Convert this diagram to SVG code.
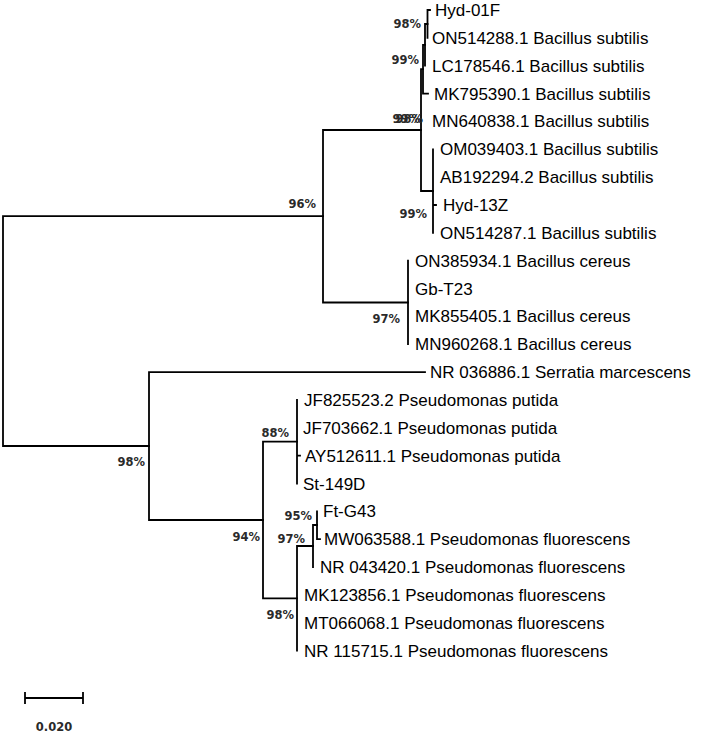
<svg xmlns="http://www.w3.org/2000/svg" width="708" height="735" viewBox="0 0 708 735">
<style>
.br{fill:none;stroke:#000;stroke-width:1.8;stroke-linecap:square}
.lf{font-family:"Liberation Sans",Arial,sans-serif;font-size:17px;fill:#000}
.bs{font-family:"DejaVu Sans",Verdana,sans-serif;font-size:11.5px;font-weight:bold;fill:#2a2a2a;text-anchor:end}
.sc{font-family:"DejaVu Sans",Verdana,sans-serif;font-size:11.5px;font-weight:bold;fill:#2a2a2a;text-anchor:middle}
</style>
<rect width="708" height="735" fill="#fff"/>
<g id="connectors">
<path class="br" d="M3,216.2V446M3,216.2H323M3,446H149"/>
<path class="br" d="M323,130V302.5M323,130H421M323,302.5H408"/>
<path class="br" d="M421,69.2V191M421,69.2H423M421,191H433"/>
<path class="br" d="M423,44.8V93.6M423,93.6H428M423,44.8H425"/>
<path class="br" d="M425,24V65.7M425,24H427.5"/>
<path class="br" d="M427.5,10V37.9M427.5,10H430"/>
<path class="br" d="M433,149.3V232.8M433,205H436"/>
<path class="br" d="M408,260.7V344.2"/>
<path class="br" d="M149,372.1V520M149,372.1H425M149,520H263"/>
<path class="br" d="M263,441.7V598.3M263,441.7H297M263,598.3H297"/>
<path class="br" d="M297,399.9V483.5M297,455.6H300"/>
<path class="br" d="M297,546V650.6M297,546H313"/>
<path class="br" d="M313,525V567M313,525H317"/>
<path class="br" d="M317,511.3V539.2M317,539.2H320"/>
</g>
<g id="leaf-Hyd-01F"><text class="lf" x="435" y="16">Hyd-01F</text></g>
<g id="leaf-ON514288"><text class="lf" x="432" y="44">ON514288.1 Bacillus subtilis</text></g>
<g id="leaf-LC178546"><text class="lf" x="432" y="71.7">LC178546.1 Bacillus subtilis</text></g>
<g id="leaf-MK795390"><text class="lf" x="434" y="99.6">MK795390.1 Bacillus subtilis</text></g>
<g id="leaf-MN640838"><text class="lf" x="432" y="127.4">MN640838.1 Bacillus subtilis</text></g>
<g id="leaf-OM039403"><text class="lf" x="440" y="155.3">OM039403.1 Bacillus subtilis</text></g>
<g id="leaf-AB192294"><text class="lf" x="440" y="183.1">AB192294.2 Bacillus subtilis</text></g>
<g id="leaf-Hyd-13Z"><text class="lf" x="443" y="211">Hyd-13Z</text></g>
<g id="leaf-ON514287"><text class="lf" x="440" y="238.8">ON514287.1 Bacillus subtilis</text></g>
<g id="leaf-ON385934"><text class="lf" x="415" y="266.7">ON385934.1 Bacillus cereus</text></g>
<g id="leaf-Gb-T23"><text class="lf" x="415" y="294.5">Gb-T23</text></g>
<g id="leaf-MK855405"><text class="lf" x="415" y="322.4">MK855405.1 Bacillus cereus</text></g>
<g id="leaf-MN960268"><text class="lf" x="415" y="350.2">MN960268.1 Bacillus cereus</text></g>
<g id="leaf-NR036886"><text class="lf" x="430" y="378.1">NR 036886.1 Serratia marcescens</text></g>
<g id="leaf-JF825523"><text class="lf" x="304" y="405.9">JF825523.2 Pseudomonas putida</text></g>
<g id="leaf-JF703662"><text class="lf" x="303" y="433.8">JF703662.1 Pseudomonas putida</text></g>
<g id="leaf-AY512611"><text class="lf" x="305" y="461.6">AY512611.1 Pseudomonas putida</text></g>
<g id="leaf-St-149D"><text class="lf" x="303" y="489.5">St-149D</text></g>
<g id="leaf-Ft-G43"><text class="lf" x="323" y="517.3">Ft-G43</text></g>
<g id="leaf-MW063588"><text class="lf" x="324" y="545.2">MW063588.1 Pseudomonas fluorescens</text></g>
<g id="leaf-NR043420"><text class="lf" x="320" y="573">NR 043420.1 Pseudomonas fluorescens</text></g>
<g id="leaf-MK123856"><text class="lf" x="304" y="600.9">MK123856.1 Pseudomonas fluorescens</text></g>
<g id="leaf-MT066068"><text class="lf" x="304" y="628.7">MT066068.1 Pseudomonas fluorescens</text></g>
<g id="leaf-NR115715"><text class="lf" x="304" y="656.6">NR 115715.1 Pseudomonas fluorescens</text></g>
<g id="node-A"><text class="bs" x="421" y="28">98%</text></g>
<g id="node-B"><text class="bs" x="419" y="64">99%</text></g>
<g id="node-C"><text class="bs" x="420" y="123">99%</text></g>
<g id="node-E"><text class="bs" x="423" y="123">98%</text></g>
<g id="node-Bacillus"><text class="bs" x="316" y="208">96%</text></g>
<g id="node-F"><text class="bs" x="427" y="218">99%</text></g>
<g id="node-G"><text class="bs" x="400" y="323">97%</text></g>
<g id="node-lower"><text class="bs" x="145" y="466">98%</text></g>
<g id="node-88"><text class="bs" x="289" y="437">88%</text></g>
<g id="node-94"><text class="bs" x="260" y="541">94%</text></g>
<g id="node-95"><text class="bs" x="312" y="520">95%</text></g>
<g id="node-97"><text class="bs" x="305" y="543">97%</text></g>
<g id="node-98"><text class="bs" x="294" y="619">98%</text></g>
<g id="scale">
<path class="br" d="M25,698H83M25,693V703M83,693V703"/>
<text class="sc" x="54" y="731">0.020</text>
</g>
</svg>
